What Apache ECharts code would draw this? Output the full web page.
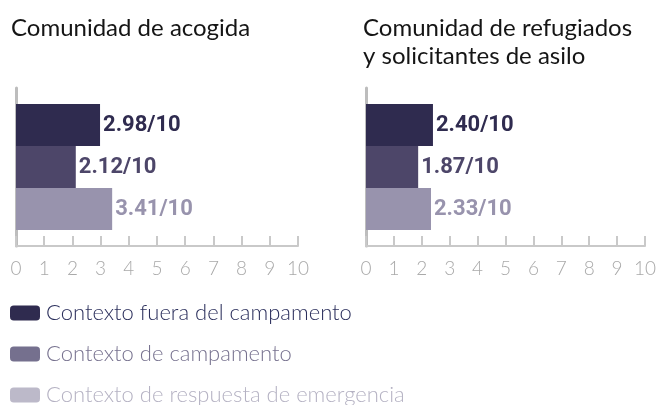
<!DOCTYPE html>
<html><head><meta charset="utf-8">
<script src="https://cdn.jsdelivr.net/npm/echarts@6/dist/echarts.min.js"></script>
<style>html,body{margin:0;padding:0;background:#fff}#c{width:659px;height:405px}</style>
</head><body><div id="c"></div>
<script>
const contexts = ['Contexto fuera del campamento', 'Contexto de campamento', 'Contexto de respuesta de emergencia'];
const hostValues = [2.98, 2.12, 3.41];
const refugeeValues = [2.40, 1.87, 2.33];
const tickLabels = [0, 1, 2, 3, 4, 5, 6, 7, 8, 9, 10];
const panelTitles = ['Comunidad de acogida', 'Comunidad de refugiados\ny solicitantes de asilo'];

const barColors = ['#2f2b4f', '#4d4669', '#9893ad'];
const legendSwatch = ['#2f2b4f', '#75708e', '#bcb9c9'];
const legendText = ['#2b2f5c', '#77728f', '#b5b2c3'];

const chart = echarts.init(document.getElementById('c'), null, {renderer: 'canvas'});
const font = 'Lato, "Open Sans", sans-serif';

const grids = [
  {left: 16, top: 88, width: 282, height: 158},
  {left: 366, top: 88, width: 281, height: 158}
];
function xAxis(i) {
  return {
    gridIndex: i, type: 'value', min: 0, max: 10, interval: 1,
    axisLine: {show: true, lineStyle: {color: '#c9c9c9', width: 2}},
    axisTick: {show: true, inside: true, length: 10, lineStyle: {color: '#c9c9c9', width: 2}},
    axisLabel: {color: '#a9a9a9', fontSize: 19, fontFamily: font, fontWeight: 300, margin: 13,
      formatter: v => String(tickLabels[v])},
    splitLine: {show: false}
  };
}
function yAxis(i) {
  return {
    gridIndex: i, type: 'category', data: [''], inverse: true,
    axisLine: {show: true, lineStyle: {color: '#bdbdbd', width: 3}},
    axisTick: {show: false}, axisLabel: {show: false}
  };
}
const series = [];
[hostValues, refugeeValues].forEach((vals, gi) => {
  contexts.forEach((name, k) => {
    series.push({
      type: 'bar', name: name, xAxisIndex: gi, yAxisIndex: gi,
      data: [vals[k]], barWidth: 42, barGap: '0%',
      itemStyle: {color: barColors[k]},
      label: {show: true, position: 'right', distance: 3, color: barColors[k],
        fontSize: 22, fontWeight: 'bold', fontFamily: 'Roboto, "Liberation Sans", sans-serif',
        formatter: p => p.value.toFixed(2) + '/10'},
      animation: false
    });
  });
});

const legendTops = [302, 343, 384];
const legends = contexts.map((n, k) => ({
  orient: 'vertical', left: 10, top: legendTops[k], padding: 0,
  itemWidth: 30, itemHeight: 15, itemGap: 0, icon: 'roundRect', selectedMode: false,
  textStyle: {fontSize: 22, fontFamily: font, fontWeight: 300, color: legendText[k], padding: [0, 0, 0, 1]},
  data: [{name: n, itemStyle: {color: legendSwatch[k]}}]
}));

chart.setOption({
  animation: false,
  title: [
    {text: panelTitles[0], left: 6, top: 9, textStyle: {fontSize: 24, fontWeight: 'normal', color: '#151515', fontFamily: font, lineHeight: 28}},
    {text: panelTitles[1], left: 358, top: 9, textStyle: {fontSize: 24, fontWeight: 'normal', color: '#151515', fontFamily: font, lineHeight: 28}}
  ],
  grid: grids,
  xAxis: [xAxis(0), xAxis(1)],
  yAxis: [yAxis(0), yAxis(1)],
  legend: legends,
  series: series
});
</script></body></html>
